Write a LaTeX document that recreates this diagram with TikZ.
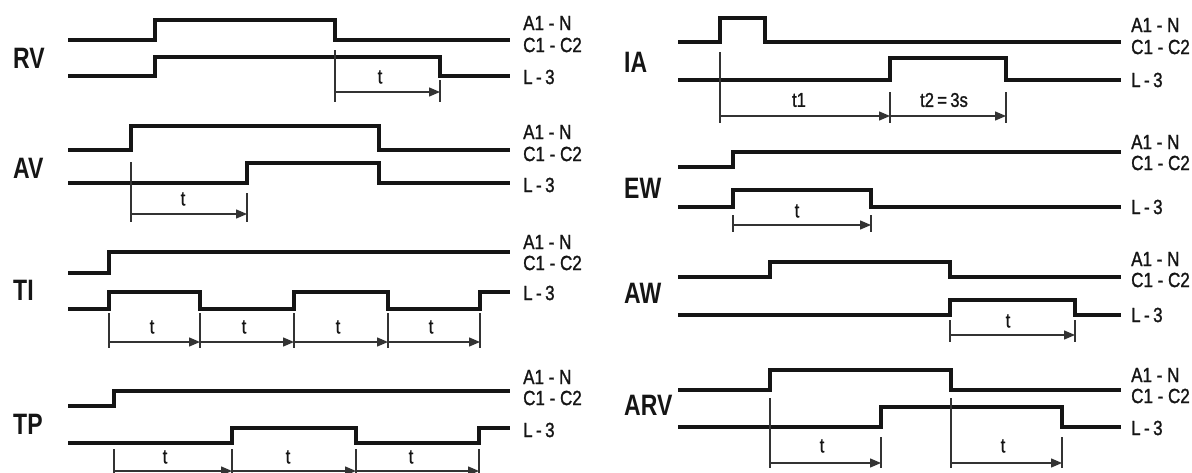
\documentclass[tikz,border=0pt]{standalone}
\usepackage{fontspec}
\usetikzlibrary{arrows.meta}
\newfontfamily\bigf[FakeStretch=0.78]{Liberation Sans Bold}
\newfontfamily\smf[FakeStretch=0.83,FakeBold=1.2]{Liberation Sans}
\definecolor{ink}{HTML}{151515}
\definecolor{thin}{HTML}{333333}
\tikzset{
  sig/.style={line width=4.2pt, draw=ink, line join=miter, line cap=butt},
  tickline/.style={line width=1.4pt, draw=thin},
  dimline/.style={line width=1.4pt, draw=thin, -{Triangle[length=11pt,width=9pt]}},
  mode/.style={font=\bigf\fontsize{29.5}{29.5}\selectfont, anchor=west, inner sep=0pt, text=ink},
  term/.style={font=\smf\fontsize{20.5}{20.5}\selectfont, anchor=west, inner sep=0pt, text=ink},
  tl/.style={font=\smf\fontsize{20}{20}\selectfont, inner sep=0pt, text=ink}
}
\begin{document}
\begin{tikzpicture}[x=1pt,y=-1pt]
\useasboundingbox (0,0) rectangle (1192,472);
\clip (0,0) rectangle (1192,472);

% ---------------- RV ----------------
\node[mode] (mRV) at (13,58) {RV};
\draw[sig] (68,40) -- (155,40) -- (155,20) -- (335,20) -- (335,40) -- (510,40);
\draw[sig] (68,76) -- (155,76) -- (155,57) -- (440,57) -- (440,76) -- (510,76);
\draw[tickline] (335,50) -- (335,102);
\draw[tickline] (440,80) -- (440,102);
\draw[dimline] (335,92) -- (440,92);
\node[tl] (tRV) at (380,77) {t};
\node[term] (aRV) at (523,23) {A1 - N};
\node[term] (cRV) at (523,45) {C1 - C2};
\node[term] (lRV) at (523,77) {L\,-\,3};

% ---------------- AV ----------------
\node[mode] (mAV) at (13,168) {AV};
\draw[sig] (68,150) -- (131,150) -- (131,126) -- (379,126) -- (379,150) -- (510,150);
\draw[sig] (68,183) -- (247,183) -- (247,163) -- (379,163) -- (379,183) -- (510,183);
\draw[tickline] (131,162) -- (131,222);
\draw[tickline] (247,193) -- (247,222);
\draw[dimline] (131,214) -- (247,214);
\node[tl] (tAV) at (183,199) {t};
\node[term] (aAV) at (523,132) {A1 - N};
\node[term] (cAV) at (523,154) {C1 - C2};
\node[term] (lAV) at (523,185) {L\,-\,3};

% ---------------- TI ----------------
\node[mode] (mTI) at (13,290) {TI};
\draw[sig] (68,273) -- (109,273) -- (109,252) -- (510,252);
\draw[sig] (68,309) -- (109,309) -- (109,292) -- (200,292) -- (200,309) -- (294,309)
  -- (294,292) -- (388,292) -- (388,309) -- (480,309) -- (480,292) -- (510,292);
\foreach \x in {109,200,294,388,480} \draw[tickline] (\x,313) -- (\x,348);
\draw[dimline] (109,342) -- (200,342);
\draw[dimline] (200,342) -- (294,342);
\draw[dimline] (294,342) -- (388,342);
\draw[dimline] (388,342) -- (480,342);
\node[tl] (tTI1) at (152,327) {t};
\node[tl] (tTI2) at (244,327) {t};
\node[tl] (tTI3) at (338,327) {t};
\node[tl] (tTI4) at (431,327) {t};
\node[term] (aTI) at (523,242) {A1 - N};
\node[term] (cTI) at (523,263) {C1 - C2};
\node[term] (lTI) at (523,293) {L\,-\,3};

% ---------------- TP ----------------
\node[mode] (mTP) at (13,424) {TP};
\draw[sig] (68,406) -- (114,406) -- (114,391) -- (510,391);
\draw[sig] (68,443) -- (232,443) -- (232,428) -- (356,428) -- (356,443) -- (479,443) -- (479,428) -- (510,428);
\foreach \x in {114,232,356,479} \draw[tickline] (\x,449) -- (\x,480);
\draw[dimline] (114,471) -- (232,471);
\draw[dimline] (232,471) -- (356,471);
\draw[dimline] (356,471) -- (479,471);
\node[tl] (tTP1) at (165,457) {t};
\node[tl] (tTP2) at (288,457) {t};
\node[tl] (tTP3) at (411,457) {t};
\node[term] (aTP) at (523,377) {A1 - N};
\node[term] (cTP) at (523,398) {C1 - C2};
\node[term] (lTP) at (523,430) {L\,-\,3};

% ---------------- IA ----------------
\node[mode] (mIA) at (624,62) {IA};
\draw[sig] (678,42) -- (720,42) -- (720,18) -- (765,18) -- (765,42) -- (1121,42);
\draw[sig] (678,80) -- (890,80) -- (890,58) -- (1006,58) -- (1006,80) -- (1121,80);
\draw[tickline] (720,52) -- (720,123);
\draw[tickline] (890,92) -- (890,123);
\draw[tickline] (1006,92) -- (1006,123);
\draw[dimline] (720,116) -- (890,116);
\draw[dimline] (890,116) -- (1006,116);
\node[tl] (tIA1) at (799,100) {t1};
\node[tl] (tIA2) at (944,100) {t2\,=\,3s};
\node[term] (aIA) at (1131,25) {A1 - N};
\node[term] (cIA) at (1131,47) {C1 - C2};
\node[term] (lIA) at (1131,80) {L\,-\,3};

% ---------------- EW ----------------
\node[mode] (mEW) at (624,188) {EW};
\draw[sig] (678,167) -- (733,167) -- (733,152) -- (1121,152);
\draw[sig] (678,207) -- (733,207) -- (733,190) -- (871,190) -- (871,207) -- (1121,207);
\draw[tickline] (733,215) -- (733,232);
\draw[tickline] (871,215) -- (871,232);
\draw[dimline] (733,225) -- (871,225);
\node[tl] (tEW) at (797,211) {t};
\node[term] (aEW) at (1131,142) {A1 - N};
\node[term] (cEW) at (1131,163) {C1 - C2};
\node[term] (lEW) at (1131,207) {L\,-\,3};

% ---------------- AW ----------------
\node[mode] (mAW) at (624,293) {AW};
\draw[sig] (678,277) -- (770,277) -- (770,262) -- (950,262) -- (950,277) -- (1121,277);
\draw[sig] (678,315) -- (950,315) -- (950,300) -- (1075,300) -- (1075,315) -- (1121,315);
\draw[tickline] (950,320) -- (950,342);
\draw[tickline] (1075,320) -- (1075,342);
\draw[dimline] (950,335) -- (1075,335);
\node[tl] (tAW) at (1008,321) {t};
\node[term] (aAW) at (1131,259) {A1 - N};
\node[term] (cAW) at (1131,280) {C1 - C2};
\node[term] (lAW) at (1131,315) {L\,-\,3};

% ---------------- ARV ----------------
\node[mode] (mARV) at (624,405) {ARV};
\draw[sig] (678,390) -- (770,390) -- (770,370) -- (951,370) -- (951,390) -- (1121,390);
\draw[sig] (678,427) -- (881,427) -- (881,407) -- (1062,407) -- (1062,427) -- (1121,427);
\draw[tickline] (770,398) -- (770,468);
\draw[tickline] (881,437) -- (881,468);
\draw[tickline] (951,398) -- (951,468);
\draw[tickline] (1062,437) -- (1062,468);
\draw[dimline] (770,463) -- (881,463);
\draw[dimline] (951,463) -- (1062,463);
\node[tl] (tARV1) at (822,446) {t};
\node[tl] (tARV2) at (1003,446) {t};
\node[term] (aARV) at (1131,375) {A1 - N};
\node[term] (cARV) at (1131,396) {C1 - C2};
\node[term] (lARV) at (1131,428) {L\,-\,3};
\end{tikzpicture}
\end{document}
